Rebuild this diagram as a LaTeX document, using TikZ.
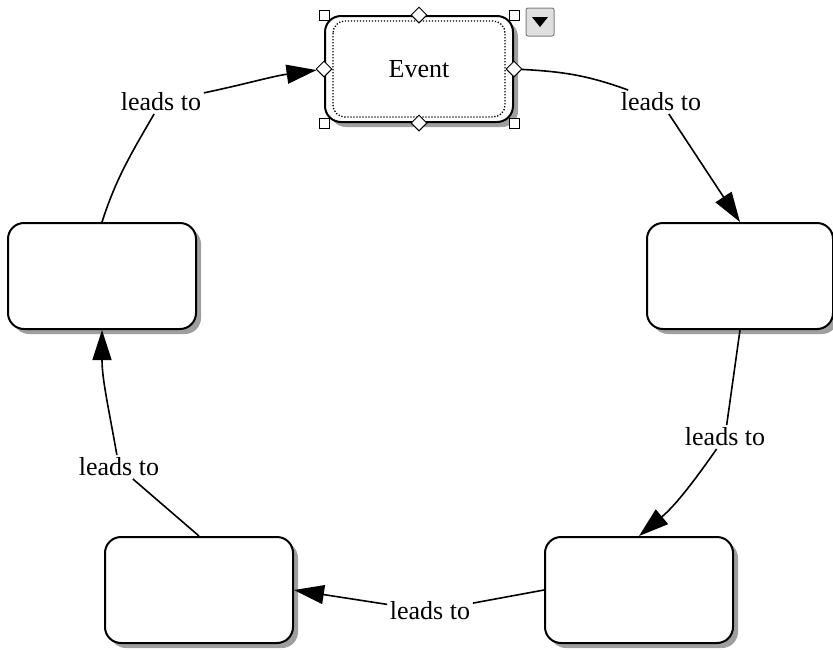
\documentclass[tikz,border=0pt]{standalone}
\usepackage{fontspec}
\setmainfont{Liberation Serif}
\usetikzlibrary{arrows.meta,shapes.geometric,shadows}
\begin{document}
\begin{tikzpicture}[x=1pt, y=1pt, line width=1.6pt, >={Triangle[length=30pt,width=19pt]},
  font=\fontsize{26}{30}\selectfont,
  box/.style = {draw, rounded corners=16pt, minimum width=188pt, minimum height=106pt, line width=2pt, fill=white,
    drop shadow={shadow xshift=5pt, shadow yshift=-5pt, fill=gray!75, opacity=1}},
  lbl/.style = {inner sep=2pt},
  handle/.style = {draw, fill=white, line width=1pt, minimum size=10pt, inner sep=0pt},
  grip/.style = {draw, diamond, fill=white, line width=1pt, minimum size=16pt, inner sep=0pt}]
\useasboundingbox (0,0) rectangle (833,-649);

\node[box] (ev) at (419,-69) {Event};
\node[box] (lf) at (102,-276) {};
\node[box] (rt) at (740,-276) [minimum width=186pt] {};
\node[box] (br) at (639,-590) {};
\node[box] (bl) at (199,-590) {};

\draw[line width=1.3pt, dash pattern=on 1.3pt off 1.7pt, rounded corners=12pt] ([shift={(9,-6)}]ev.north west) rectangle ([shift={(-9,6)}]ev.south east);
\foreach \a in {north west,north east,south west,south east}
  \node[handle] at (ev.\a) {};
\foreach \a/\n in {north/gn,south/gs,east/ge,west/gw}
  \node[grip] (\n) at (ev.\a) {};
\node[draw=gray, fill=gray!25, line width=1pt, minimum size=28pt, rounded corners=2pt] (menu) at (540,-22) {};
\fill (menu.center) +(-8,5) -- +(8,5) -- +(0,-5) -- cycle;

\node[lbl] (l1) at (661,-102) {leads to};
\node[lbl] (l2) at (725,-437) {leads to};
\node[lbl] (l3) at (430,-611) {leads to};
\node[lbl] (l4) at (119,-467) {leads to};
\node[lbl] (l5) at (161,-102) {leads to};

\draw (ge) to[out=-3,in=160] (l1);
\draw[->] (l1) -- (rt.north);
\draw (rt.south) -- (l2);
\draw[->] (l2) to[out=-125,in=40] (br.north);
\draw (br.west) -- (l3);
\draw[->] (l3) -- (bl.east);
\draw (bl.north) -- (l4);
\draw[->] (l4) to[out=100,in=-90] (lf.south);
\draw (lf.north) to[out=72,in=-120] (l5);
\draw[->] (l5) to[out=12,in=188] (gw);

\end{tikzpicture}
\end{document}
